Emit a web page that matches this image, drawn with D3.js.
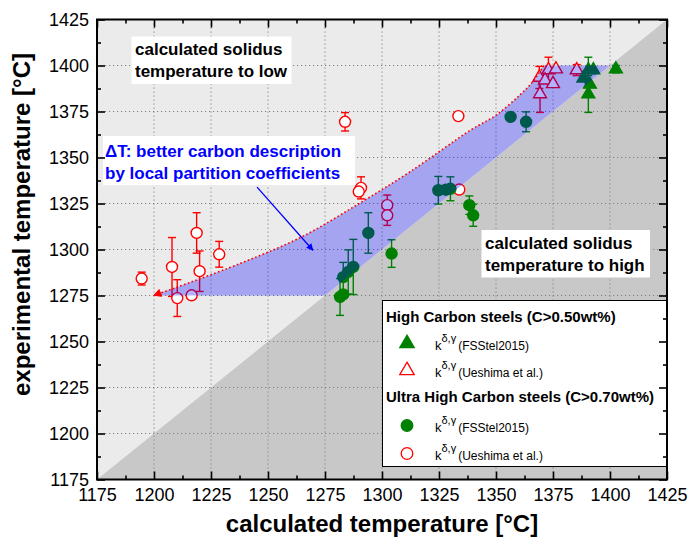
<!DOCTYPE html>
<html><head><meta charset="utf-8">
<script src="https://cdn.jsdelivr.net/npm/d3@7"></script>
<style>
body{margin:0;background:#fff}
svg{display:block}
text{font-family:"Liberation Sans",Arial,sans-serif}
</style>
</head><body>
<svg id="c" width="689" height="545"></svg>
<script>
// ---------- data ----------
const axisDomain = [1175, 1425];
const tickValues = [1175,1200,1225,1250,1275,1300,1325,1350,1375,1400,1425];
const minorTickValues = [1187.5,1212.5,1237.5,1262.5,1287.5,1312.5,1337.5,1362.5,1387.5,1412.5];
const gridValues = [1200,1225,1250,1275,1300,1325,1350,1375,1400];

// High Carbon steels, k FSStel2015 (filled triangles)
const hcFsX   = [1388.3,1390.5,1392.7,1391.2,1390.5,1402.6];
const hcFsY   = [1393.0,1397.5,1397.5,1389.7,1384.5,1398.0];
const hcFsErr = [0,7,0,0,10,2];

// High Carbon steels, k Ueshima et al. (open triangles)
const hcUeX   = [1369.0,1373.0,1376.3,1371.5,1375.0,1369.3,1385.4];
const hcUeY   = [1393.5,1397.5,1398.0,1392.0,1390.0,1384.5,1397.5];
const hcUeErr = [6,7,0,0,0,10,3];

// Ultra High Carbon steels, k FSStel2015 (filled circles)
const uhcFsX   = [1281.6,1283.0,1283.0,1285.2,1287.4,1294.0,1304.2,1324.7,1328.0,1330.0,1338.3,1340.0,1356.4,1363.2];
const uhcFsY   = [1274.2,1275.6,1285.0,1287.8,1290.5,1309.0,1297.8,1332.2,1332.5,1333.0,1324.1,1318.6,1372.1,1369.4];
const uhcFsErr = [10,0,8,12,15,11,7.5,7.5,0,6.5,5,6,0,5.4];

// Ultra High Carbon steels, k Ueshima et al. (open circles)
const uhcUeX   = [1194.6,1207.9,1210.2,1218.7,1220.0,1216.5,1228.6,1283.8,1290.8,1289.8,1302.3,1302.3,1333.5,1333.9];
const uhcUeY   = [1284.2,1290.5,1273.6,1309.0,1288.2,1275.1,1297.4,1369.4,1333.5,1331.5,1324.1,1318.6,1372.5,1332.6];
const uhcUeErr = [3.5,16,10,11,11,0,7,5,6,0,5.5,5.5,0,0];

// Delta-T band (upper edge = red dotted curve)
const bandUpperX = [1200,1238,1265,1290,1312,1339,1350,1360.5,1366,1371];
const bandUpperY = [1275,1292.5,1307,1325,1342,1365,1373,1384,1391,1400];
const bandCornerX = [1400,1275];
const bandCornerY = [1400,1275];

// blue annotation arrow (data coords)
const arrowX = [1245.2,1269.7];
const arrowY = [1333.9,1299.6];

const legendGroups = [
  {title:"High Carbon steels (C>0.50wt%)", items:[
    {sym:"tri", fill:"#008000", stroke:"#008000", sub:"(FSStel2015)"},
    {sym:"tri", fill:"#ffffff", stroke:"#ff0000", sub:"(Ueshima et al.)"}]},
  {title:"Ultra High Carbon steels (C>0.70wt%)", items:[
    {sym:"circ", fill:"#008000", stroke:"#008000", sub:"(FSStel2015)"},
    {sym:"circ", fill:"#ffffff", stroke:"#ff0000", sub:"(Ueshima et al.)"}]}
];

// ---------- layout ----------
const L=97, R=667, T=19.5, B=479.5;
const svg = d3.select("#c");
const x = d3.scaleLinear().domain(axisDomain).range([L,R]);
const y = d3.scaleLinear().domain(axisDomain).range([B,T]);

const defs = svg.append("defs");
defs.append("marker").attr("id","blueArrow").attr("viewBox","0 0 10 10")
  .attr("refX",9).attr("refY",5).attr("markerWidth",9).attr("markerHeight",7)
  .attr("markerUnits","userSpaceOnUse").attr("orient","auto")
  .append("path").attr("d","M0,0L10,5L0,10Z").attr("fill","#0000ff");
defs.append("marker").attr("id","redArrow").attr("viewBox","0 0 10 10")
  .attr("refX",9).attr("refY",5).attr("markerWidth",13).attr("markerHeight",8)
  .attr("markerUnits","userSpaceOnUse").attr("orient","auto-start-reverse")
  .append("path").attr("d","M0,0L10,5L0,10Z").attr("fill","#ff0000");

// backgrounds
svg.append("rect").attr("x",L).attr("y",T).attr("width",R-L).attr("height",B-T).attr("fill","#ebebeb");
svg.append("path")
  .attr("d",`M${x(1175)},${y(1175)}L${x(1425)},${y(1175)}L${x(1425)},${y(1425)}Z`)
  .attr("fill","#c8c8c8");

// band path
const upperPts = bandUpperX.map((v,i)=>[x(v),y(bandUpperY[i])]);
const curveGen = d3.line().curve(d3.curveCatmullRom.alpha(0.5));
const bandPath = curveGen(upperPts) +
  bandCornerX.map((v,i)=>`L${x(v)},${y(bandCornerY[i])}`).join("") + "Z";
svg.append("path").attr("d",bandPath).attr("fill","#ebebeb");

// grid
const grid = svg.append("g").attr("stroke","#808080").attr("stroke-width",1).attr("stroke-dasharray","1.2,2.8");
gridValues.forEach(v=>{
  grid.append("line").attr("x1",x(v)).attr("x2",x(v)).attr("y1",T).attr("y2",B);
  grid.append("line").attr("y1",y(v)).attr("y2",y(v)).attr("x1",L).attr("x2",R);
});

// error bars + markers
function errBars(xs,ys,es,color){
  const g = svg.append("g").attr("stroke",color).attr("stroke-width",1.4).attr("fill","none");
  xs.forEach((xv,i)=>{
    const e = es[i]; if(!e) return;
    const cx = x(xv), y1 = y(ys[i]+e), y2 = y(ys[i]-e);
    g.append("line").attr("x1",cx).attr("x2",cx).attr("y1",y1).attr("y2",y2);
    g.append("line").attr("x1",cx-4).attr("x2",cx+4).attr("y1",y1).attr("y2",y1);
    g.append("line").attr("x1",cx-4).attr("x2",cx+4).attr("y1",y2).attr("y2",y2);
  });
}
const triPath = d3.symbol().type(d3.symbolTriangle).size(72)();
function triangles(xs,ys,fill,stroke){
  svg.append("g").selectAll("path").data(xs).join("path")
    .attr("d",triPath)
    .attr("transform",(d,i)=>`translate(${x(d)},${y(ys[i])})`)
    .attr("fill",fill).attr("stroke",stroke).attr("stroke-width",1.4);
}
function circles(xs,ys,fill,stroke){
  svg.append("g").selectAll("circle").data(xs).join("circle")
    .attr("cx",d=>x(d)).attr("cy",(d,i)=>y(ys[i])).attr("r",5.5)
    .attr("fill",fill).attr("stroke",stroke).attr("stroke-width",1.4);
}
errBars(uhcUeX,uhcUeY,uhcUeErr,"#ff0000");
circles(uhcUeX,uhcUeY,"#ffffff","#ff0000");
errBars(uhcFsX,uhcFsY,uhcFsErr,"#008000");
circles(uhcFsX,uhcFsY,"#008000","#008000");
errBars(hcUeX,hcUeY,hcUeErr,"#ff0000");
triangles(hcUeX,hcUeY,"#ffffff","#ff0000");
errBars(hcFsX,hcFsY,hcFsErr,"#008000");
triangles(hcFsX,hcFsY,"#008000","#008000");

// translucent band overlay
svg.append("path").attr("d",bandPath).attr("fill","#0000ff").attr("fill-opacity",0.3);

// red dotted curve with arrowhead at the lower end
svg.append("path").attr("d",curveGen(upperPts)).attr("fill","none")
  .attr("stroke","#ff0000").attr("stroke-width",1.6).attr("stroke-dasharray","1.6,2.4");
svg.append("line")
  .attr("x1",x(bandUpperX[1])).attr("y1",y(bandUpperY[1]))
  .attr("x2",x(bandUpperX[0])).attr("y2",y(bandUpperY[0]))
  .attr("stroke","none").attr("marker-end","url(#redArrow)");
// explicit arrowhead line segment (invisible stroke, marker drawn)
svg.append("path")
  .attr("d",`M${x(bandUpperX[0])+14},${y(bandUpperY[0])-6}L${x(bandUpperX[0])},${y(bandUpperY[0])}`)
  .attr("stroke","#ff0000").attr("stroke-width",0.1).attr("fill","none").attr("marker-end","url(#redArrow)");

// text boxes
function textBox(rx,ry,rw,rh,lines,color,size){
  svg.append("rect").attr("x",rx).attr("y",ry).attr("width",rw).attr("height",rh).attr("fill","#ffffff");
  lines.forEach(l=>{
    svg.append("text").attr("x",l[0]).attr("y",l[1]).text(l[2])
      .attr("fill",color).attr("font-weight","bold").attr("font-size",size);
  });
}
textBox(131.5,36.5,160,47.5,[[135,55,"calculated solidus"],[135,76.5,"temperature to low"]],"#000000",17);
textBox(103,136,252,49,[[105,157,"\u0394T: better carbon description"],[105,178.5,"by local partition coefficients"]],"#0000ff",17);
textBox(481.5,230,168.5,47.5,[[485,249,"calculated solidus"],[485,270.5,"temperature to high"]],"#000000",17);

// blue arrow
svg.append("line").attr("x1",x(arrowX[0])).attr("y1",y(arrowY[0]))
  .attr("x2",x(arrowX[1])).attr("y2",y(arrowY[1]))
  .attr("stroke","#0000ff").attr("stroke-width",1.3).attr("marker-end","url(#blueArrow)");

// legend
const lg = svg.append("g");
lg.append("rect").attr("x",382.5).attr("y",300.5).attr("width",284).attr("height",166)
  .attr("fill","#ffffff").attr("stroke","#000000").attr("stroke-width",1);
const rowY = [[321.7,[343.5,370.5]],[401.7,[425.5,453.5]]];
legendGroups.forEach((grp,gi)=>{
  lg.append("text").attr("x",386).attr("y",rowY[gi][0]).text(grp.title)
    .attr("font-weight","bold").attr("font-size",15);
  grp.items.forEach((it,ii)=>{
    const cy = rowY[gi][1][ii];
    if(it.sym==="tri"){
      lg.append("path").attr("d",d3.symbol().type(d3.symbolTriangle).size(90)())
        .attr("transform",`translate(407,${cy})`).attr("fill",it.fill).attr("stroke",it.stroke).attr("stroke-width",1.3);
    } else {
      lg.append("circle").attr("cx",407).attr("cy",cy).attr("r",5.8)
        .attr("fill",it.fill).attr("stroke",it.stroke).attr("stroke-width",1.3);
    }
    const t = lg.append("text").attr("x",435).attr("y",cy+6.5).attr("font-size",13);
    t.append("tspan").text("k");
    t.append("tspan").attr("dy",-8).attr("font-size",11).text("\u03b4,\u03b3");
    t.append("tspan").attr("dy",8).attr("dx",2).attr("font-size",12).text(it.sub);
  });
});

// axes
function drawAxis(axisGen, tx, ty, labels){
  const g = svg.append("g").attr("transform",`translate(${tx},${ty})`).call(axisGen);
  g.select(".domain").remove();
  g.selectAll(".tick line").attr("stroke","#000").attr("stroke-width",1.6);
  if(labels) g.selectAll(".tick text").attr("font-size",18).attr("font-family","Liberation Sans, Arial, sans-serif").attr("fill","#000");
  else g.selectAll(".tick text").remove();
  return g;
}
drawAxis(d3.axisBottom(x).tickValues(tickValues).tickSizeInner(-8).tickSizeOuter(0).tickPadding(9).tickFormat(d3.format("d")),0,B,true);
drawAxis(d3.axisLeft(y).tickValues(tickValues).tickSizeInner(-8).tickSizeOuter(0).tickPadding(8).tickFormat(d3.format("d")),L,0,true);
drawAxis(d3.axisTop(x).tickValues(tickValues).tickSizeInner(-8).tickSizeOuter(0),0,T,false);
drawAxis(d3.axisRight(y).tickValues(tickValues).tickSizeInner(-8).tickSizeOuter(0),R,0,false);
drawAxis(d3.axisBottom(x).tickValues(minorTickValues).tickSizeInner(-4).tickSizeOuter(0),0,B,false);
drawAxis(d3.axisLeft(y).tickValues(minorTickValues).tickSizeInner(-4).tickSizeOuter(0),L,0,false);
drawAxis(d3.axisTop(x).tickValues(minorTickValues).tickSizeInner(-4).tickSizeOuter(0),0,T,false);
drawAxis(d3.axisRight(y).tickValues(minorTickValues).tickSizeInner(-4).tickSizeOuter(0),R,0,false);
svg.append("rect").attr("x",L).attr("y",T).attr("width",R-L).attr("height",B-T)
  .attr("fill","none").attr("stroke","#000").attr("stroke-width",2);

// axis titles
svg.append("text").attr("x",(L+R)/2).attr("y",532).attr("text-anchor","middle")
  .attr("font-weight","bold").attr("font-size",24).text("calculated temperature [\u00b0C]");
svg.append("text").attr("transform",`translate(30,${(T+B)/2-25}) rotate(-90)`).attr("text-anchor","middle")
  .attr("font-weight","bold").attr("font-size",24).text("experimental temperature [\u00b0C]");
</script>
</body></html>
